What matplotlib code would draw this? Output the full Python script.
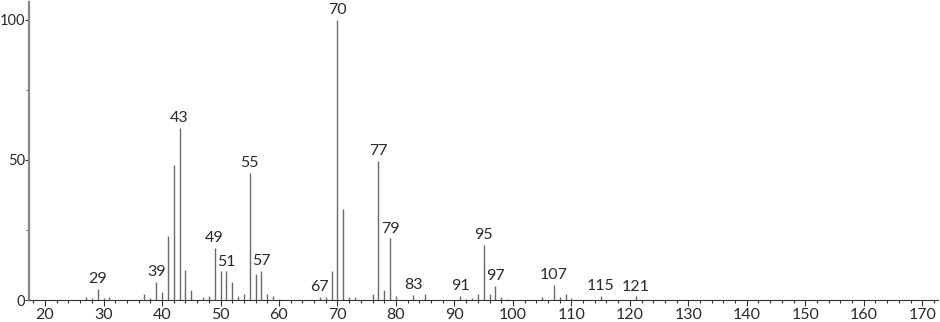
import matplotlib
matplotlib.use("Agg")
import matplotlib.pyplot as plt
from matplotlib.ticker import MultipleLocator, FixedLocator

plt.rcParams['font.family'] = ['Lato', 'DejaVu Sans']

mz = [27, 28, 29, 30, 31, 37, 38, 39, 40, 41, 42, 43, 44, 45, 47, 48, 49, 50, 51, 52,
      53, 54, 55, 56, 57, 58, 59, 60, 67, 68, 69, 70, 71, 72, 73, 76, 77, 78, 79, 80,
      83, 85, 91, 92, 93, 94, 95, 96, 97, 98, 99, 105, 107, 108, 109, 110, 115, 121]
intensity = [1.2, 0.6, 4.0, 0.6, 1.0, 2.1, 0.6, 6.5, 2.8, 23.0, 48.0, 61.5, 10.8, 3.6, 1.1, 1.3, 18.7, 10.2, 10.2, 6.3,
             1.3, 2.1, 45.3, 9.4, 10.3, 2.0, 1.5, 0.5, 1.0, 1.1, 10.4, 100.0, 32.5, 1.0, 1.0, 2.1, 49.6, 3.6, 22.0, 1.4,
             1.9, 2.1, 1.4, 0.5, 0.8, 2.0, 19.7, 2.3, 5.1, 1.2, 0.5, 1.0, 5.4, 1.0, 2.0, 0.8, 1.4, 1.3]
labeled = [29, 39, 43, 49, 51, 55, 57, 67, 70, 77, 79, 83, 91, 95, 97, 107, 115, 121]

x_major = [20, 30, 40, 50, 60, 70, 80, 90, 100, 110, 120, 130, 140, 150, 160, 170]
y_major = [0, 50, 100]

fig = plt.figure(figsize=(9.4, 3.22), dpi=100)
ax = fig.add_axes([0.0309, 0.0683, 0.967, 0.926])

ax.vlines(mz, 0, intensity, colors='#6a6a6a', linewidth=1.0)
for m, v in zip(mz, intensity):
    if m in labeled:
        ax.annotate(str(m), (m, v), xytext=(0, 2), textcoords='offset points',
                    ha='center', va='bottom', fontsize=11.5, color='#2a2a2a')

ax.set_xlim(17.26, 172.7)
ax.set_ylim(0, 106.4)
ax.xaxis.set_major_locator(FixedLocator(x_major))
ax.xaxis.set_minor_locator(MultipleLocator(2))
ax.yaxis.set_major_locator(FixedLocator(y_major))
ax.yaxis.set_minor_locator(FixedLocator([25, 75]))
ax.set_xticklabels([str(v) for v in x_major])
ax.set_yticklabels([str(v) for v in y_major])

for s in ['top', 'right']:
    ax.spines[s].set_visible(False)
ax.spines['left'].set_color('#888888')
ax.spines['left'].set_linewidth(1.6)
ax.spines['bottom'].set_color('#333333')
ax.spines['bottom'].set_linewidth(0.8)

ax.tick_params(axis='x', which='major', direction='out', length=4, width=0.8,
               color='#333333', labelsize=11.5, labelcolor='#2a2a2a', pad=1.5)
ax.tick_params(axis='x', which='minor', direction='out', length=2.5, width=0.8, color='#333333')
ax.tick_params(axis='y', which='major', direction='out', length=3, width=0.8,
               color='#333333', labelsize=10.5, labelcolor='#2a2a2a', pad=0)
ax.tick_params(axis='y', which='minor', direction='out', length=2, width=0.8, color='#666666')

fig.savefig('out.png', dpi=100)
